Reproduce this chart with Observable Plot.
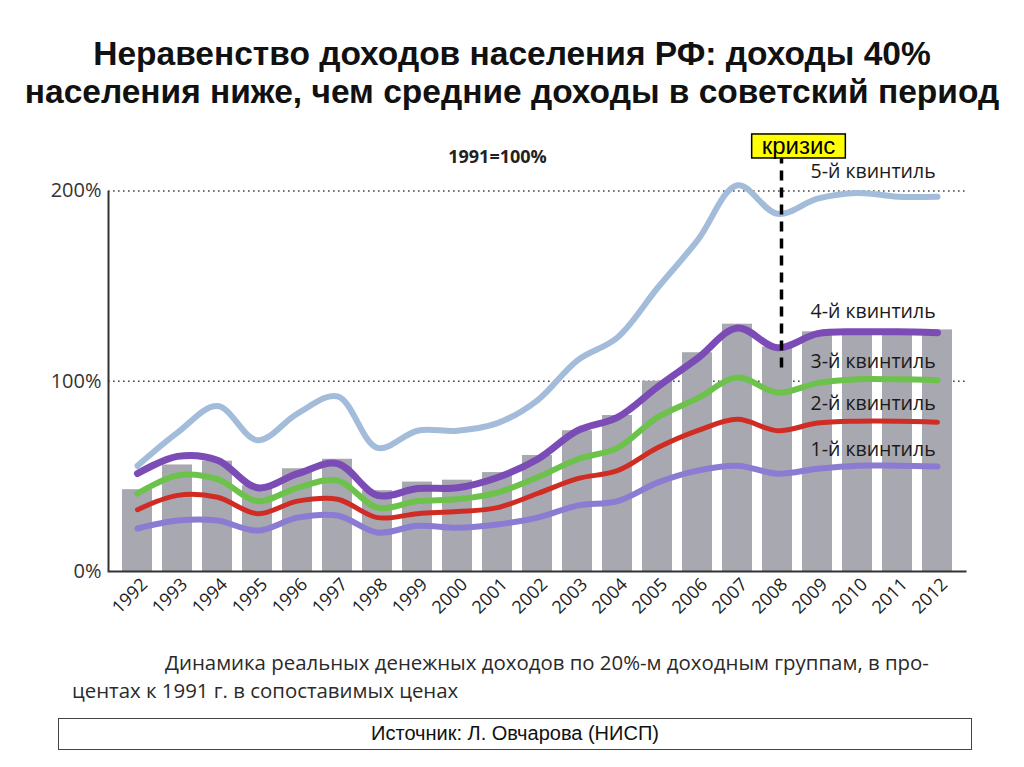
<!DOCTYPE html>
<html>
<head>
<meta charset="utf-8">
<script src="https://cdn.jsdelivr.net/npm/d3@7"></script>
<script src="https://cdn.jsdelivr.net/npm/@observablehq/plot@0.6"></script>
<style>
  html, body { margin: 0; padding: 0; background: #fff; }
  body { width: 1024px; height: 767px; position: relative; overflow: hidden; }
  #title { position: absolute; top: 35px; left: 0; width: 1024px; text-align: center;
    font-family: "Liberation Sans", Arial, sans-serif; font-weight: bold; font-size: 33.5px;
    line-height: 38px; color: #111; white-space: nowrap; }
  #chart { position: absolute; top: 130px; left: 0; }
  #caption { position: absolute; top: 648px; left: 72px; font-family: "Open Sans", sans-serif;
    font-size: 20.4px; line-height: 28px; color: #2a2a2a; white-space: nowrap; text-indent: 93px; }
  #source { position: absolute; top: 718px; left: 58px; width: 914px; height: 32px; box-sizing: border-box;
    border: 1.5px solid #444; text-align: center; font-family: "Liberation Sans Narrow", "Liberation Sans", Arial, sans-serif;
    font-size: 20px; line-height: 29px; color: #111; }
</style>
</head>
<body>
<div id="title">Неравенство доходов населения РФ: доходы 40%<br>населения ниже, чем средние доходы в советский период</div>
<div id="chart"></div>
<div id="caption">Динамика реальных денежных доходов по 20%-м доходным группам, в про-<br>центах к 1991 г. в сопоставимых ценах</div>
<div id="source">Источник: Л. Овчарова (НИСП)</div>
<script>
// ---- data ----
const years = ["1992","1993","1994","1995","1996","1997","1998","1999","2000","2001","2002",
               "2003","2004","2005","2006","2007","2008","2009","2010","2011","2012"];
const avgIncome = [43, 56, 58, 45, 54, 59, 42.5, 47, 48, 52, 61, 74, 82, 100, 115, 130, 118, 126, 127, 127, 127];
const q5 = [55.6, 73, 87, 69, 83, 92, 65, 74, 74, 78, 90, 111, 123, 149, 174, 203, 188, 196, 199, 197, 197];
const q4 = [51.5, 60.5, 58.5, 44, 51.4, 56.7, 40, 43.6, 44, 49.4, 59, 74, 81, 97, 112, 128, 117.6, 125, 126, 126, 125.5];
const q3 = [41, 50.5, 48.5, 37, 44, 47.8, 33.6, 37, 38, 41.5, 49.5, 59, 65, 81, 91, 102, 94, 99, 101, 101, 100.5];
const q2 = [32.5, 40, 39, 30.4, 37, 38, 28.3, 30.4, 31.5, 33.6, 41, 48.8, 53, 65, 74, 80, 74, 78, 79, 79, 78.5];
const q1 = [22.6, 26.8, 26.8, 21.5, 28.3, 29.4, 20.5, 24, 23, 24.7, 28.3, 34.6, 37, 46.7, 53, 55.6, 51.4, 54, 55.6, 55.6, 55.2];
const yTicks = [0, 100, 200];
const quintileLabels = ["5-й квинтиль", "4-й квинтиль", "3-й квинтиль", "2-й квинтиль", "1-й квинтиль"];
const quintileLabelY = [210, 136.5, 110, 88, 64];
const labelYear = "2009";
const crisisYear = "2008";
const crisisLine = [107, 217];
const crisisLabel = "кризис";
const crisisLabelY = 223.5;
const baseLabel = "1991=100%";
const baseLabelYear = "2001";
const baseLabelY = 218;

// ---- tables ----
const bars = years.map((year, i) => ({year, value: avgIncome[i]}));
const series = [
  {values: q5, stroke: "#a3bcda", width: 6},
  {values: q4, stroke: "#7b4cb6", width: 7},
  {values: q3, stroke: "#6cc24a", width: 6},
  {values: q2, stroke: "#d02c24", width: 5},
  {values: q1, stroke: "#8b7bd3", width: 6}
];
const labels = quintileLabels.map((label, i) => ({label, y: quintileLabelY[i]}));

const W = 1024, H = 510, mL = 108, mR = 58, mT = 60.5, mB = 69;
const fw = W - mL - mR, fh = H - mT - mB;

const plot = Plot.plot({
  width: W, height: H,
  marginLeft: mL, marginRight: mR, marginTop: mT, marginBottom: mB,
  style: {fontFamily: "'Open Sans', sans-serif", background: "transparent", color: "#222"},
  x: {type: "band", domain: years, paddingInner: 0.25, paddingOuter: 0.1, label: null},
  y: {domain: [0, 200], label: null},
  marks: [
    Plot.ruleY([100, 200], {stroke: "#444", strokeWidth: 1.6, strokeDasharray: "1.6,3.4"}),
    Plot.barY(bars, {x: "year", y: "value", fill: "#a8a8b0"}),
    Plot.frame({stroke: "#333", strokeWidth: 2, strokeDasharray: `0 ${fw + fh} ${fw + fh}`}),
    ...series.map(s => Plot.line(years.map((year, i) => ({year, value: s.values[i]})),
      {x: "year", y: "value", stroke: s.stroke, strokeWidth: s.width, curve: "catmull-rom"})),
    Plot.axisY({ticks: yTicks, tickFormat: d => d + "%", tickSize: 0, tickPadding: 7, fontSize: 20, fill: "#333"}),
    Plot.axisX({tickRotate: -45, tickSize: 0, tickPadding: 10, dx: 7, fontSize: 18, fill: "#222"}),
    Plot.ruleX([crisisYear], {y1: crisisLine[0], y2: crisisLine[1], stroke: "#000", strokeWidth: 3.5, strokeDasharray: "10,7", dx: 4}),
    Plot.text(labels, {x: () => labelYear, y: "y", text: "label", textAnchor: "start", dx: -7, fontSize: 19.5, fill: "#1a1a1a"}),
    Plot.text([baseLabel], {x: () => baseLabelYear, y: () => baseLabelY, text: d => d, fontSize: 18, fontWeight: "bold", fill: "#222"}),
    Plot.text([crisisLabel], {x: () => crisisYear, y: () => crisisLabelY, text: d => d, dx: 21, fontSize: 24,
      fontFamily: "'Liberation Sans', Arial, sans-serif", fill: "#000"})
  ]
});
document.getElementById("chart").appendChild(plot);

// yellow box behind the crisis label
const t = Array.from(plot.querySelectorAll("text")).find(el => el.textContent === crisisLabel);
if (t) {
  const b = t.getBBox();
  const r = document.createElementNS("http://www.w3.org/2000/svg", "rect");
  r.setAttribute("x", b.x - 10);
  r.setAttribute("y", b.y + 2);
  r.setAttribute("width", b.width + 20);
  r.setAttribute("height", b.height - 3);
  r.setAttribute("fill", "#ffff00");
  r.setAttribute("stroke", "#000");
  r.setAttribute("stroke-width", 1.5);
  if (t.getAttribute("transform")) r.setAttribute("transform", t.getAttribute("transform"));
  t.parentNode.insertBefore(r, t);
}
</script>
</body>
</html>
